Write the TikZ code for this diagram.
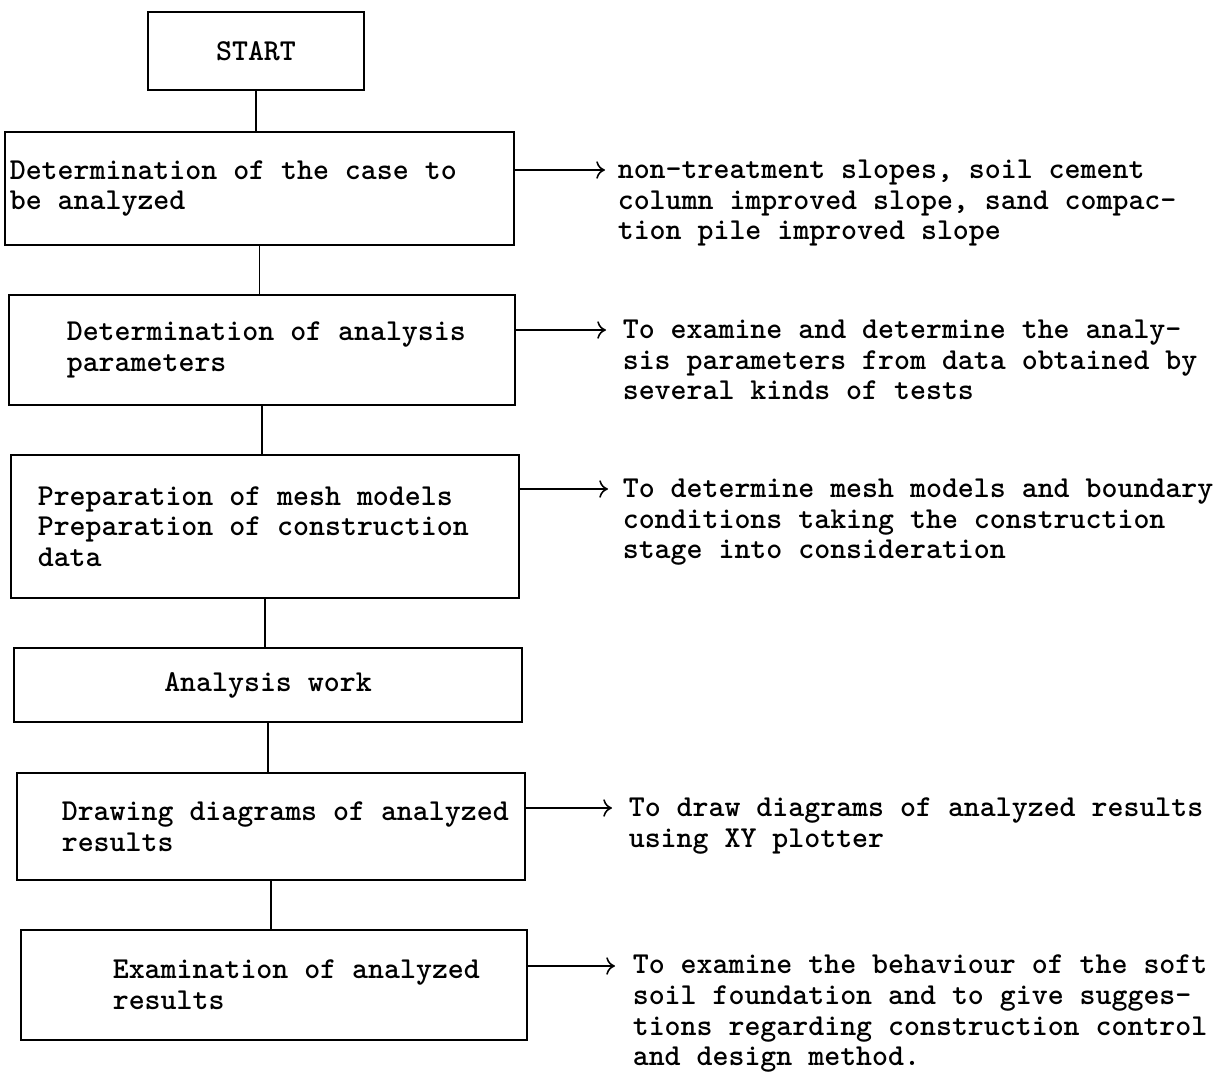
\documentclass[tikz,border=0pt]{standalone}
\usetikzlibrary{positioning,arrows.meta}
\begin{document}
\begin{tikzpicture}[x=1cm,y=1cm,>={To[length=5pt,width=10pt]},line width=.9pt,
  font=\ttfamily\bfseries\fontsize{17.3}{17.5}\selectfont,
  stage/.style={draw,line width=1.1pt,inner sep=0pt},
  inbox/.style={align=left,inner sep=0pt},
  note/.style={align=left,inner sep=0pt,anchor=north west}]
  \useasboundingbox (0,0) rectangle (24.38,-21.44);
  % the six stages below START
  \node[stage,minimum width=4.32cm,minimum height=1.56cm] (start) at (5.12,-1.02) {START};
  \node[stage,minimum width=10.18cm,minimum height=2.26cm] (case) at (5.19,-3.77) {};
  \node[stage,minimum width=10.12cm,minimum height=2.2cm] (param) at (5.24,-7.00) {};
  \node[stage,minimum width=10.16cm,minimum height=2.86cm] (mesh) at (5.30,-10.53) {};
  \node[stage,minimum width=10.16cm,minimum height=1.48cm] (work) at (5.36,-13.70) {Analysis work};
  \node[stage,minimum width=10.16cm,minimum height=2.14cm] (plot) at (5.42,-16.53) {};
  \node[stage,minimum width=10.12cm,minimum height=2.2cm] (exam) at (5.48,-19.70) {};
  \node[inbox,right=0.1cm of case.west] (case-t) {Determination of the case to\\be analyzed};
  \node[inbox,right=1.16cm of param.west] (param-t) {Determination of analysis\\parameters};
  \node[inbox,right=0.54cm of mesh.west] (mesh-t) {Preparation of mesh models\\Preparation of construction\\data};
  \node[inbox,right=0.9cm of plot.west] (plot-t) {Drawing diagrams of analyzed\\results};
  \node[inbox,right=1.84cm of exam.west] (exam-t) {Examination of analyzed\\results};
  % vertical links
  \draw (start.south) -- (start.south |- case.north);
  \draw (case.south) -- (case.south |- param.north);
  \draw (param.south) -- (param.south |- mesh.north);
  \draw (mesh.south) -- (mesh.south |- work.north);
  \draw (work.south) -- (work.south |- plot.north);
  \draw (plot.south) -- (plot.south |- exam.north);
  % side notes
  \coordinate (a1) at (12.10,-3.40);
  \coordinate (a2) at (12.12,-6.60);
  \coordinate (a3) at (12.16,-9.78);
  \coordinate (a5) at (12.24,-16.16);
  \coordinate (a6) at (12.30,-19.32);
  \draw[->] (case.east |- a1) -- (a1);
  \draw[->] (param.east |- a2) -- (a2);
  \draw[->] (mesh.east |- a3) -- (a3);
  \draw[->] (plot.east |- a5) -- (a5);
  \draw[->] (exam.east |- a6) -- (a6);
  \node[note] (n1) at ([shift={(0.24,0.22)}]a1) {non-treatment slopes, soil cement\\column improved slope, sand compac-\\tion pile improved slope};
  \node[note] (n2) at ([shift={(0.32,0.22)}]a2) {To examine and determine the analy-\\sis parameters from data obtained by\\several kinds of tests};
  \node[note] (n3) at ([shift={(0.28,0.22)}]a3) {To determine mesh models and boundary\\conditions taking the construction\\stage into consideration};
  \node[note] (n5) at ([shift={(0.32,0.22)}]a5) {To draw diagrams of analyzed results\\using XY plotter};
  \node[note] (n6) at ([shift={(0.34,0.24)}]a6) {To examine the behaviour of the soft\\soil foundation and to give sugges-\\tions regarding construction control\\and design method.};
\end{tikzpicture}
\end{document}
